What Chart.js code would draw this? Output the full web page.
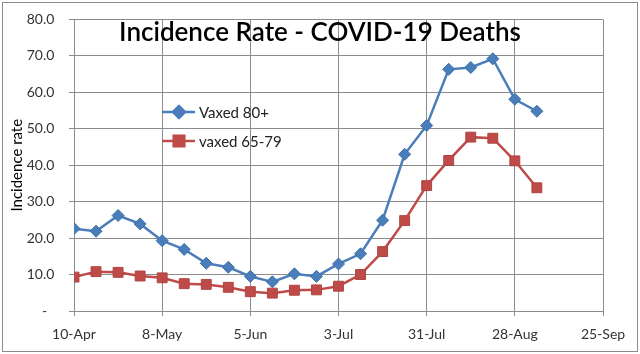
<!DOCTYPE html>
<html>
<head>
<meta charset="utf-8">
<script src="https://cdn.jsdelivr.net/npm/chart.js@4"></script>
<style>
  html, body { margin: 0; padding: 0; background: #fff; }
  #wrap { width: 640px; height: 354px; }
</style>
</head>
<body>
<div id="wrap"><canvas id="chart" width="640" height="354"></canvas></div>
<script>
// 週ごとの日付
const weeks = ['2021-04-10','2021-04-17','2021-04-24','2021-05-01','2021-05-08','2021-05-15',
  '2021-05-22','2021-05-29','2021-06-05','2021-06-12','2021-06-19','2021-06-26','2021-07-03',
  '2021-07-10','2021-07-17','2021-07-24','2021-07-31','2021-08-07','2021-08-14','2021-08-21',
  '2021-08-28','2021-09-04'];

const vaxed80 = [22.6, 21.9, 26.2, 23.9, 19.3, 16.9, 13.1, 12.0, 9.5, 8.0, 10.2, 9.5,
  12.9, 15.7, 24.9, 43.0, 50.9, 66.3, 66.8, 69.2, 58.1, 54.8];
const vaxed65 = [9.3, 10.8, 10.6, 9.6, 9.1, 7.5, 7.3, 6.5, 5.3, 4.9, 5.7, 5.8,
  6.8, 10.0, 16.3, 24.8, 34.4, 41.3, 47.7, 47.4, 41.2, 33.8];

// x軸ラベル（28日ごと）
const xTickLabels = ['10-Apr', '8-May', '5-Jun', '3-Jul', '31-Jul', '28-Aug', '25-Sep'];

const BLUE = '#4a7ebb';
const RED = '#be4b48';
const FONT = 'Lato, "Open Sans", sans-serif';
const NB = '\u00a0';

const start = Date.UTC(2021, 3, 10);
const dayOf = s => Math.round((Date.parse(s + 'T00:00:00Z') - start) / 86400000);
const toPoints = arr => arr.map((v, i) => ({x: dayOf(weeks[i]), y: v}));

// 枠・タイトル・凡例
const decor = {
  id: 'decor',
  beforeDraw(chart) {
    const ctx = chart.ctx;
    ctx.save();
    ctx.fillStyle = '#fff';
    ctx.fillRect(0, 0, chart.width, chart.height);
    ctx.strokeStyle = '#8c8c8c';
    ctx.lineWidth = 1;
    ctx.strokeRect(2.5, 2.5, chart.width - 5, chart.height - 5);
    ctx.restore();
  },
  afterDatasetsDraw(chart) {
    const ctx = chart.ctx;
    ctx.save();
    ctx.fillStyle = '#000';
    ctx.font = '600 26px ' + FONT;
    ctx.textAlign = 'center';
    ctx.textBaseline = 'middle';
    ctx.fillText('Incidence Rate - COVID-19 Deaths', 320, 33);

    const items = [
      {label: 'Vaxed 80+', color: BLUE, style: 'rectRot', r: 6, y: 112},
      {label: 'vaxed 65-79', color: RED, style: 'rect', r: 7.5, y: 141}
    ];
    ctx.font = '15px ' + FONT;
    ctx.textAlign = 'left';
    for (const it of items) {
      ctx.strokeStyle = it.color;
      ctx.lineWidth = 2.5;
      ctx.beginPath();
      ctx.moveTo(162, it.y);
      ctx.lineTo(195, it.y);
      ctx.stroke();
      Chart.helpers.drawPoint(ctx, {pointStyle: it.style, radius: it.r, borderWidth: 1}, 179, it.y);
      ctx.fillStyle = it.color;
      ctx.fill();
      ctx.fillStyle = '#222';
      ctx.fillText(it.label, 199, it.y + 1);
    }
    ctx.restore();
  }
};

new Chart(document.getElementById('chart'), {
  type: 'line',
  data: {
    datasets: [
      {
        label: 'Vaxed 80+',
        data: toPoints(vaxed80),
        borderColor: BLUE,
        backgroundColor: BLUE,
        borderWidth: 2.5,
        pointStyle: 'rectRot',
        pointRadius: 6,
        pointBorderWidth: 1,
        pointBorderColor: '#3d6fa8'
      },
      {
        label: 'vaxed 65-79',
        data: toPoints(vaxed65),
        borderColor: RED,
        backgroundColor: RED,
        borderWidth: 2.5,
        pointStyle: 'rect',
        pointRadius: 7,
        pointBorderWidth: 1,
        pointBorderColor: '#b04542'
      }
    ]
  },
  options: {
    responsive: false,
    animation: false,
    layout: {padding: {left: 0, right: 37, top: 19, bottom: 0}},
    plugins: {
      legend: {display: false},
      tooltip: {enabled: false}
    },
    scales: {
      x: {
        type: 'linear',
        min: 0,
        max: 168,
        afterFit(s) { s.height = 43; },
        ticks: {
          stepSize: 28,
          autoSkip: false,
          maxRotation: 0,
          color: '#333',
          font: {family: FONT, size: 14},
          padding: 10,
          callback: v => xTickLabels[v / 28]
        },
        grid: {color: '#8c8c8c', tickLength: 5, drawTicks: true},
        border: {color: '#8c8c8c'}
      },
      y: {
        min: 0,
        max: 80,
        afterFit(s) { s.width = 74; },
        ticks: {
          stepSize: 10,
          color: '#333',
          font: {family: FONT, size: 14},
          padding: 11,
          callback: v => v === 0 ? '-' + NB.repeat(3) : v.toFixed(1) + NB
        },
        title: {
          display: true,
          text: 'Incidence rate',
          color: '#000',
          font: {family: FONT, size: 15},
          padding: {top: 8, bottom: 0}
        },
        grid: {color: '#8c8c8c', tickLength: 5},
        border: {color: '#8c8c8c'}
      }
    }
  },
  plugins: [decor]
});
</script>
</body>
</html>
